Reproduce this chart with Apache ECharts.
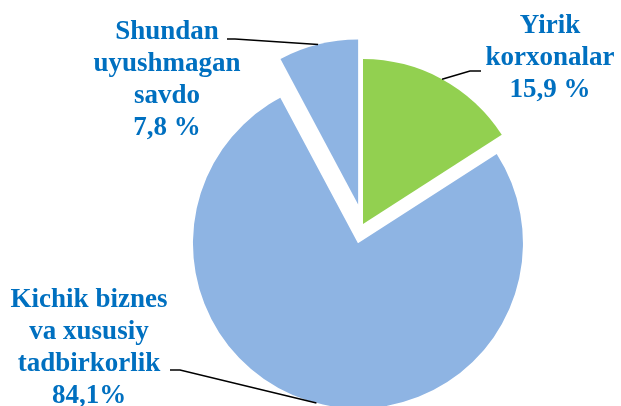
<!DOCTYPE html>
<html><head><meta charset="utf-8">
<script src="https://cdn.jsdelivr.net/npm/echarts@6/dist/echarts.min.js"></script>
<style>html,body{margin:0;padding:0;background:#fff}#c{width:621px;height:406px}</style>
</head><body><div id="c"></div>
<script>
const categories = ['Yirik\nkorxonalar', 'Kichik biznes\nva xususiy\ntadbirkorlik', 'Shundan\nuyushmagan\nsavdo'];
const values = [15.9, 76.3, 7.8];
const valueLabels = ['15,9 %', '84,1%', '7,8 %'];
const colors = ['#92D050', '#8EB4E3', '#8EB4E3'];
const exploded = [false, true, true];

const EXPLODE = 20;
const CENTER = [363, 224];
const RADIUS = 165;

// label placement (layout only)
const labelBoxes = [
  {x: 550, y: 10, ex: 481, ey: 71, elbow: -11},
  {x: 89, y: 284, ex: 170, ey: 370, elbow: 10},
  {x: 167, y: 16, ex: 227, ey: 39, elbow: 8}
];

const labelFont = {
  color: '#0070C0',
  fontFamily: 'Liberation Serif',
  fontWeight: 'bold',
  fontSize: 27,
  lineHeight: 32,
  align: 'center'
};

const chart = echarts.init(document.getElementById('c'), null, {renderer: 'canvas'});
chart.setOption({
  animation: false,
  series: [{
    type: 'pie',
    center: CENTER,
    radius: RADIUS,
    startAngle: 90,
    clockwise: true,
    selectedMode: 'multiple',
    selectedOffset: EXPLODE,
    avoidLabelOverlap: false,
    emphasis: {disabled: true},
    silent: true,
    data: categories.map((c, i) => ({
      name: c, value: values[i], selected: exploded[i],
      itemStyle: {color: colors[i]}
    })),
    label: {show: false},
    labelLine: {show: false}
  }, {
    type: 'pie',
    center: CENTER,
    radius: RADIUS,
    startAngle: 90,
    clockwise: true,
    selectedMode: false,
    avoidLabelOverlap: false,
    emphasis: {disabled: true},
    silent: true,
    z: 3,
    data: categories.map((c, i) => ({
      name: c, value: values[i],
      itemStyle: {color: 'rgba(0,0,0,0)'}
    })),
    label: Object.assign({
      show: true,
      position: 'outside',
      formatter: p => p.name + '\n' + valueLabels[p.dataIndex]
    }, labelFont),
    labelLine: {show: true, length: 10, length2: 10, lineStyle: {color: '#000', width: 1.5}},
    labelLayout: function (p) {
      const L = labelBoxes[p.dataIndex];
      const pts = p.labelLinePoints;
      let start = pts[0];
      if (exploded[p.dataIndex]) {
        const vx = pts[1][0] - pts[0][0], vy = pts[1][1] - pts[0][1];
        const len = Math.sqrt(vx * vx + vy * vy) || 1;
        start = [pts[0][0] + vx / len * EXPLODE, pts[0][1] + vy / len * EXPLODE];
      }
      return {
        x: L.x, y: L.y, align: 'center', verticalAlign: 'top',
        labelLinePoints: [start, [L.ex + L.elbow, L.ey], [L.ex, L.ey]]
      };
    }
  }]
});
</script>
</body></html>
